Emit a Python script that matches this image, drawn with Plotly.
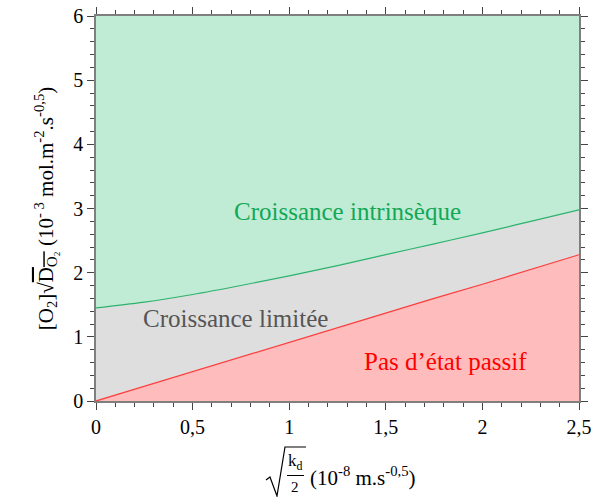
import plotly.graph_objects as go

# Data
x_vals = [0, 0.25, 0.5, 0.75, 1.0, 1.25, 1.5, 1.75, 2.0, 2.25, 2.5]
limit_passive = [0, 0.23, 0.46, 0.68, 0.91, 1.14, 1.37, 1.60, 1.82, 2.05, 2.28]
limit_intrinsic = [1.45, 1.54, 1.66, 1.80, 1.95, 2.11, 2.28, 2.45, 2.62, 2.80, 2.98]

x_ticks = [0, 0.5, 1, 1.5, 2, 2.5]
x_ticktext = ["0", "0,5", "1", "1,5", "2", "2,5"]
y_ticks = [0, 1, 2, 3, 4, 5, 6]

labels = ["Croissance intrinsèque", "Croissance limitée", "Pas d\u2019état passif"]
label_x = [1.30, 0.72, 1.81]
label_y = [2.95, 1.28, 0.62]
label_colors = ["#12A857", "#555555", "#FF0000"]

GREEN_FILL = "#C0EBD4"
GRAY_FILL = "#DEDEDE"
RED_FILL = "#FFBCBC"
FONT = "Liberation Serif"

fig = go.Figure()
fig.add_trace(go.Scatter(x=x_vals, y=limit_passive, mode="lines",
                         line=dict(color="#FF3B3B", width=1.2),
                         fill="tozeroy", fillcolor=RED_FILL, hoverinfo="skip"))
fig.add_trace(go.Scatter(x=x_vals, y=limit_intrinsic, mode="lines", line_shape="spline",
                         line=dict(color="#2DB36E", width=1.2),
                         fill="tonexty", fillcolor=GRAY_FILL, hoverinfo="skip"))

for t, lx, ly, c in zip(labels, label_x, label_y, label_colors):
    fig.add_annotation(x=lx, y=ly, text=t, showarrow=False,
                       font=dict(family=FONT, size=25, color=c),
                       xanchor="center", yanchor="middle")

W0, H0, L, T = 483.0, 385.0, 96.0, 16.0
def px(xp):
    return (xp - L) / W0
def py(yp):
    return (T + H0 - yp) / H0

# x-axis title: sqrt(k_d / 2) (10^-8 m.s^-0,5)
rad = [(266, 480), (270, 477), (277, 496), (285, 447), (306, 447)]
path = "M " + " L ".join(f"{px(a):.4f},{py(b):.4f}" for a, b in rad)
fig.add_shape(type="path", path=path, xref="paper", yref="paper",
              line=dict(color="black", width=1.2))
fig.add_shape(type="line", xref="paper", yref="paper",
              x0=px(287), x1=px(304), y0=py(475.5), y1=py(475.5),
              line=dict(color="black", width=1))
fig.add_annotation(x=px(295), y=py(462), xref="paper", yref="paper", showarrow=False,
                   text="k<sub>d</sub>", font=dict(family=FONT, size=17, color="black"),
                   xanchor="center", yanchor="middle")
fig.add_annotation(x=px(295), y=py(487), xref="paper", yref="paper", showarrow=False,
                   text="2", font=dict(family=FONT, size=15, color="black"),
                   xanchor="center", yanchor="middle")
fig.add_annotation(x=px(308), y=py(476), xref="paper", yref="paper", showarrow=False,
                   text="(10<sup>-8</sup> m.s<sup>-0,5</sup>)",
                   font=dict(family=FONT, size=21, color="black"),
                   xanchor="left", yanchor="middle")

ytitle = ("[O<sub>2</sub>]\u221A<span style='text-decoration:overline'>D<sub>O\u2082</sub></span>"
          " (10<sup>- 3</sup> mol.m<sup>-2</sup>.s<sup>-0,5</sup>)")

axis_common = dict(showline=True, linecolor="#7F7F7F", linewidth=1.5, mirror="ticks",
                   ticks="outside", ticklen=7, tickwidth=1, tickcolor="#444444",
                   showgrid=False, zeroline=False,
                   tickfont=dict(family=FONT, size=20, color="black"))

fig.update_xaxes(range=[0, 2.5], tickvals=x_ticks, ticktext=x_ticktext,
                 minor=dict(dtick=0.1, ticks="outside", ticklen=4, tickcolor="#444444", showgrid=False),
                 **axis_common)
fig.update_yaxes(range=[0, 6], tickvals=y_ticks,
                 minor=dict(dtick=0.2, ticks="outside", ticklen=4, tickcolor="#444444", showgrid=False),
                 title=dict(text=ytitle, font=dict(family=FONT, size=21, color="black"), standoff=14),
                 **axis_common)

fig.update_layout(width=592, height=497, margin=dict(l=96, r=13, t=16, b=96, autoexpand=False),
                  plot_bgcolor=GREEN_FILL, paper_bgcolor="white", showlegend=False,
                  font=dict(family=FONT))

fig.write_html("out.html", config={"displayModeBar": False},
               post_script="document.body.style.margin='0';document.body.style.overflow='hidden';")
